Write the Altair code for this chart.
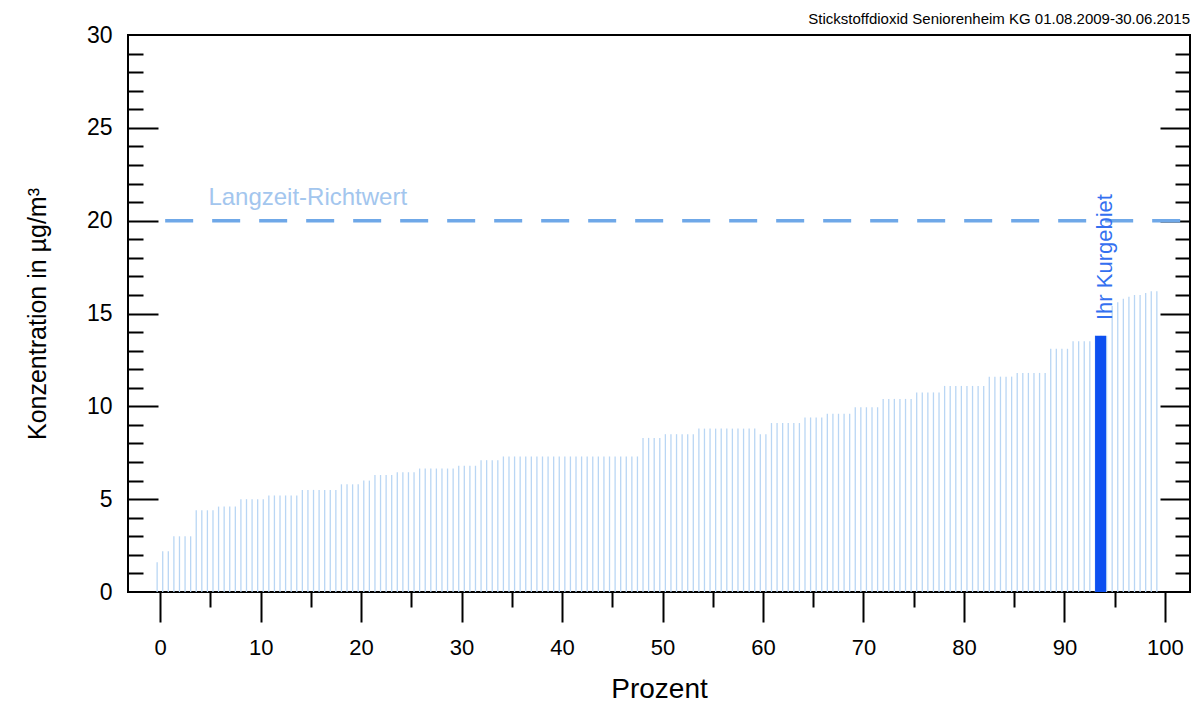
import altair as alt
import numpy as np
import pandas as pd

# ---------------- data ----------------
# sorted station values (µg/m³), grouped as runs of equal height
step_values = [1.6, 2.2, 3.0, 4.4, 4.6, 5.0, 5.2, 5.5, 5.8, 6.0,
               6.3, 6.45, 6.65, 6.8, 7.1, 7.3, 8.3, 8.5, 8.8, 8.5,
               9.1, 9.4, 9.6, 9.95, 10.4, 10.75, 11.1, 11.6, 11.8, 13.1,
               13.5, 13.8, 15.4, 15.6, 15.8, 15.9, 16.0, 16.1, 16.2]
step_counts = [1, 2, 4, 4, 4, 5, 6, 7, 4, 2,
               4, 4, 7, 4, 4, 25, 4, 6, 11, 2,
               6, 4, 5, 5, 6, 5, 8, 5, 6, 4,
               4, 3, 1, 1, 1, 1, 2, 1, 2]

kurgebiet_prozent = [93.6]
kurgebiet_wert = [13.8]
richtwert = [20]

x_major = list(range(0, 101, 10))
x_minor = list(range(5, 100, 10))
y_labels = [0, 5, 10, 15, 20, 25, 30]
y_inner_major = [5, 10, 15, 20, 25]
y_inner_minor = [v for v in range(1, 30) if v % 5]

title_text = "Stickstoffdioxid Seniorenheim KG 01.08.2009-30.06.2015"
x_title = "Prozent"
y_title = "Konzentration in µg/m³"
label_richtwert = "Langzeit-Richtwert"
label_kurgebiet = "Ihr Kurgebiet"

# ---------------- tables ----------------
werte = np.repeat(step_values, step_counts)
n = len(werte)
prozent = -0.3 + np.arange(n) * 99.5 / (n - 1)   # percent rank of each station
df_bars = pd.DataFrame({"prozent": prozent, "wert": werte})
df_k = pd.DataFrame({"prozent": kurgebiet_prozent, "wert": kurgebiet_wert,
                     "label": [label_kurgebiet], "label_y": [14.65], "label_x": [94.0]})
df_rw = pd.DataFrame({"wert": richtwert, "von": [0.5], "bis": [102.5],
                      "label": [label_richtwert], "label_x": [4.8], "label_y": [21.2]})

W, H = 1062, 557
FONT = "Liberation Sans, Arial, Helvetica, sans-serif"

xs = alt.Scale(domain=[-3.2, 102.5], nice=False, zero=False, padding=0)
ys = alt.Scale(domain=[0, 30], nice=False, padding=0)


def tick_axis(orient, values, size, offset=0):
    return alt.Axis(orient=orient, values=values, tickSize=size, tickWidth=2,
                    tickColor="black", labels=False, domain=False, grid=False,
                    title=None, offset=offset)


bars = alt.Chart(df_bars).mark_rule(color="#b9d6f4", strokeWidth=1.3).encode(
    x=alt.X("prozent:Q", scale=xs,
            axis=alt.Axis(orient="bottom", values=x_major, tickSize=30, tickWidth=2,
                          tickColor="black", labelFontSize=22, labelPadding=15,
                          labelFont=FONT, labelColor="black", labelFlush=False,
                          domain=False, grid=False, title=x_title, titleFontSize=28,
                          titleFont=FONT, titleFontWeight="normal", titleColor="black",
                          titlePadding=17)),
    y=alt.Y("wert:Q", scale=ys,
            axis=alt.Axis(orient="left", values=y_labels, ticks=False, tickSize=0,
                          labelPadding=16, labelFontSize=23, labelFont=FONT,
                          labelColor="black", labelFlush=False, domain=False, grid=False,
                          title=y_title, titleFontSize=25, titleFont=FONT,
                          titleFontWeight="normal", titleColor="black", titlePadding=36)),
    y2=alt.datum(0),
)

highlight = alt.Chart(df_k).mark_bar(size=11, color="#0c4ff0").encode(
    x=alt.X("prozent:Q", scale=xs, axis=tick_axis("bottom", x_minor, 15)),
    y=alt.Y("wert:Q", scale=ys, axis=tick_axis("right", y_inner_minor, 15, -W)),
)

rw_line = alt.Chart(df_rw).mark_rule(color="#6fa8e8", strokeWidth=3.5,
                                     strokeDash=[28, 19]).encode(
    x=alt.X("von:Q", scale=xs, axis=None),
    x2="bis:Q",
    y=alt.Y("wert:Q", scale=ys, axis=tick_axis("right", y_inner_major, 30, -W)),
)

rw_text = alt.Chart(df_rw).mark_text(align="left", baseline="middle", fontSize=24,
                                     font=FONT, color="#a3c6ee").encode(
    x=alt.X("label_x:Q", scale=xs, axis=None),
    y=alt.Y("label_y:Q", scale=ys, axis=tick_axis("left", y_inner_minor, 15, -W)),
    text="label:N",
)

k_text = alt.Chart(df_k).mark_text(align="left", baseline="middle", fontSize=22,
                                   angle=270, font=FONT, color="#3470f0").encode(
    x=alt.X("label_x:Q", scale=xs, axis=None),
    y=alt.Y("label_y:Q", scale=ys, axis=tick_axis("left", y_inner_major, 30, -W)),
    text="label:N",
)

chart = alt.layer(bars, highlight, rw_line, rw_text, k_text).resolve_axis(
    x="independent", y="independent"
).properties(
    width=W, height=H,
    autosize=alt.AutoSizeParams(type="none"),
    padding={"left": 128, "top": 35, "right": 6, "bottom": 110},
    title=alt.TitleParams(title_text, anchor="end", frame="group", fontSize=15,
                          font=FONT, fontWeight="normal", color="black", offset=-3),
    background="white",
).configure_view(stroke="black", strokeWidth=2)

chart.save("out.html", embed_options={"renderer": "svg", "actions": False})
